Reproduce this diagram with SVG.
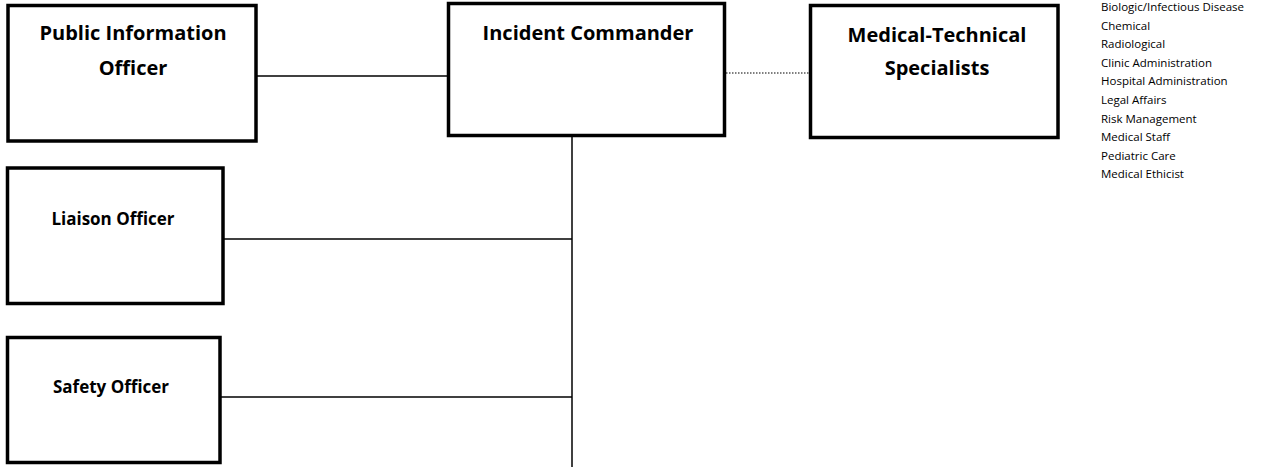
<svg xmlns="http://www.w3.org/2000/svg" width="1264" height="467" viewBox="0 0 1264 467">
<style>
.box{fill:#fff;stroke:#000;stroke-width:3.5}
.t{font-family:"Open Sans","Liberation Sans",sans-serif;font-weight:bold;font-size:20px;fill:#000;text-anchor:middle}
.t2{font-size:17px}
.s{font-family:"Open Sans","Liberation Sans",sans-serif;font-size:11.5px;fill:#000}
.c{stroke:#000;stroke-width:1.5;fill:none}
.d{stroke:#000;stroke-width:1.2;stroke-dasharray:1.5 1.5;fill:none}
</style>
<rect width="1264" height="467" fill="#fff"/>
<g id="connectors">
<line class="c" x1="257" y1="76" x2="447" y2="76"/>
<line class="d" x1="726" y1="73" x2="809" y2="73"/>
<line class="c" x1="572" y1="137" x2="572" y2="467"/>
<line class="c" x1="224" y1="239" x2="572" y2="239"/>
<line class="c" x1="221" y1="397" x2="572" y2="397"/>
</g>
<g id="pio">
<rect class="box" x="8" y="5.5" width="248" height="135.5"/>
<text class="t" x="133" y="40">Public Information</text>
<text class="t" x="133" y="75">Officer</text>
</g>
<g id="ic">
<rect class="box" x="448.5" y="3.5" width="276" height="132"/>
<text class="t" x="588" y="40">Incident Commander</text>
</g>
<g id="mts">
<rect class="box" x="810.5" y="5.5" width="247.5" height="132"/>
<text class="t" x="937" y="42">Medical-Technical</text>
<text class="t" x="937" y="75">Specialists</text>
</g>
<g id="specialties">
<text class="s" x="1101" y="11">Biologic/Infectious Disease</text>
<text class="s" x="1101" y="29.6">Chemical</text>
<text class="s" x="1101" y="48.2">Radiological</text>
<text class="s" x="1101" y="66.8">Clinic Administration</text>
<text class="s" x="1101" y="85.4">Hospital Administration</text>
<text class="s" x="1101" y="104">Legal Affairs</text>
<text class="s" x="1101" y="122.6">Risk Management</text>
<text class="s" x="1101" y="141.2">Medical Staff</text>
<text class="s" x="1101" y="159.8">Pediatric Care</text>
<text class="s" x="1101" y="178.4">Medical Ethicist</text>
</g>
<g id="liaison">
<rect class="box" x="7.5" y="168" width="215.5" height="135.5"/>
<text class="t t2" x="113" y="225">Liaison Officer</text>
</g>
<g id="safety">
<rect class="box" x="7.5" y="337.5" width="212.5" height="125"/>
<text class="t t2" x="111" y="393">Safety Officer</text>
</g>
</svg>
